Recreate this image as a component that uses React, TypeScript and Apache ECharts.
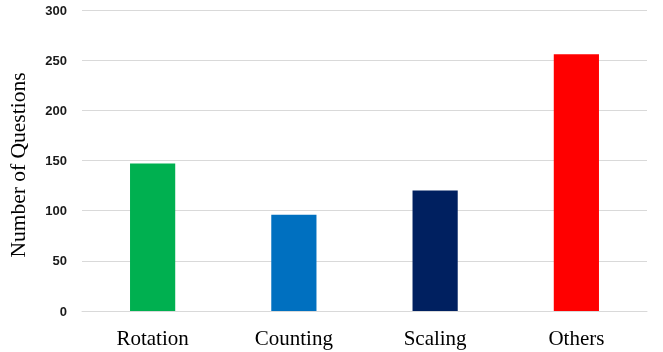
import React, { useEffect, useRef } from "react";
import * as echarts from "echarts";

const categories = ["Rotation", "Counting", "Scaling", "Others"];
const values = [147, 96, 120, 256];
const barColors = ["#00B050", "#0070C0", "#002060", "#FF0000"];
const yTicks = { min: 0, max: 300, interval: 50 };
const yAxisTitle = "Number of Questions";

export default function App() {
  const ref = useRef<HTMLDivElement>(null);
  useEffect(() => {
    if (!ref.current) return;
    const chart = echarts.init(ref.current, null, { renderer: "svg" });
    chart.setOption({
      animation: false,
      grid: { left: 82, right: 16, top: 10, bottom: 41 },
      graphic: [
        {
          type: "text",
          x: 18,
          y: 165,
          rotation: Math.PI / 2,
          style: {
            text: yAxisTitle,
            fontFamily: "Liberation Serif",
            fontSize: 21.5,
            fill: "#000",
            align: "center",
            verticalAlign: "middle",
          },
        },
      ],
      xAxis: {
        type: "category",
        data: categories,
        axisLine: { show: true, lineStyle: { color: "#d9d9d9", width: 1 } },
        axisTick: { show: false },
        axisLabel: {
          fontFamily: "Liberation Serif",
          fontSize: 21,
          color: "#000",
          margin: 16,
        },
      },
      yAxis: {
        type: "value",
        min: yTicks.min,
        max: yTicks.max,
        interval: yTicks.interval,
        axisLine: { show: false },
        axisTick: { show: false },
        axisLabel: {
          fontFamily: "Liberation Sans",
          fontWeight: "bold",
          fontSize: 13,
          color: "#1a1a1a",
          margin: 15,
        },
        splitLine: { lineStyle: { color: "#d9d9d9", width: 1 } },
      },
      series: [
        {
          type: "bar",
          data: values.map((v, i) => ({ value: v, itemStyle: { color: barColors[i] } })),
          barWidth: "32%",
        },
      ],
    });
    return () => chart.dispose();
  }, []);
  return (
    <div
      ref={ref}
      style={{ position: "fixed", left: 0, top: 0, width: 663, height: 352 }}
    />
  );
}
